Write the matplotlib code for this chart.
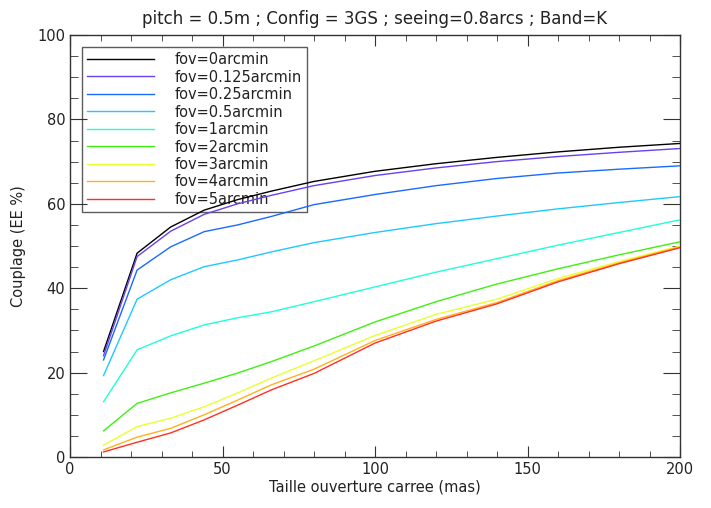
import matplotlib
matplotlib.use("Agg")
import matplotlib.pyplot as plt
from matplotlib.ticker import MultipleLocator

x = [11, 22, 33, 44, 55, 66, 80, 100, 120, 140, 160, 180, 200]

labels = ["fov=0arcmin", "fov=0.125arcmin", "fov=0.25arcmin", "fov=0.5arcmin",
          "fov=1arcmin", "fov=2arcmin", "fov=3arcmin", "fov=4arcmin", "fov=5arcmin"]
colors = ["#000000", "#6a40f0", "#1a6aff", "#20c8ff", "#20ffd8",
          "#40f010", "#e8ff30", "#ffb020", "#ff3020"]

fov0 = [25.0, 48.3, 54.5, 58.5, 61.0, 63.0, 65.3, 67.7, 69.5, 71.0, 72.3, 73.4, 74.3]
fov0125 = [24.0, 47.5, 53.5, 57.5, 60.0, 62.0, 64.3, 66.7, 68.5, 70.0, 71.2, 72.2, 73.1]
fov025 = [23.0, 44.3, 49.8, 53.4, 55.0, 57.0, 59.8, 62.2, 64.3, 66.0, 67.3, 68.2, 69.0]
fov05 = [19.3, 37.4, 42.0, 45.1, 46.7, 48.6, 50.8, 53.2, 55.3, 57.1, 58.8, 60.3, 61.7]
fov1 = [13.1, 25.4, 28.7, 31.3, 33.0, 34.4, 36.8, 40.3, 43.8, 47.0, 50.2, 53.2, 56.2]
fov2 = [6.2, 12.7, 15.2, 17.5, 19.9, 22.6, 26.3, 32.0, 36.8, 41.0, 44.6, 47.9, 51.0]
fov3 = [2.8, 7.2, 9.2, 11.9, 15.2, 18.7, 22.8, 28.8, 33.8, 37.4, 42.3, 46.3, 50.0]
fov4 = [1.7, 4.7, 6.8, 10.0, 13.5, 17.1, 20.8, 27.6, 32.6, 36.6, 41.8, 46.0, 49.8]
fov5 = [1.2, 3.5, 5.7, 8.8, 12.3, 15.9, 19.8, 27.0, 32.2, 36.3, 41.5, 45.8, 49.6]

series = [fov0, fov0125, fov025, fov05, fov1, fov2, fov3, fov4, fov5]

fig = plt.figure(figsize=(7.11, 5.08), dpi=100)
ax = fig.add_axes([70/711, 51/508, 610/711, 422/508])

for y, c, lab in zip(series, colors, labels):
    ax.plot(x, y, color=c, lw=1.0, label=lab, zorder=3)

ax.set_xlim(0, 200)
ax.set_ylim(0, 100)
ax.xaxis.set_major_locator(MultipleLocator(50))
ax.xaxis.set_minor_locator(MultipleLocator(10))
ax.yaxis.set_major_locator(MultipleLocator(20))
ax.yaxis.set_minor_locator(MultipleLocator(5))
ax.tick_params(which="both", direction="in", top=True, right=True, colors="#333333",
               labelcolor="#222222", labelsize=10.5)
ax.tick_params(axis="x", which="major", length=8)
ax.tick_params(axis="x", which="minor", length=4)
ax.tick_params(axis="y", which="major", length=12)
ax.tick_params(axis="y", which="minor", length=6)
for s in ax.spines.values():
    s.set_color("#333333")
    s.set_linewidth(1.0)

ax.set_xlabel("Taille ouverture carree (mas)", fontsize=10.5, color="#222222", labelpad=2)
ax.set_ylabel("Couplage (EE %)", fontsize=10.5, color="#222222", labelpad=8)
ax.set_title("pitch = 0.5m ; Config = 3GS ; seeing=0.8arcs ; Band=K", fontsize=12,
             color="#222222", pad=8)

leg = ax.legend(loc="upper left", bbox_to_anchor=(12/610, 1 - 12/422), fontsize=10.5,
                frameon=True, fancybox=False, handlelength=4.6, handletextpad=1.4,
                labelspacing=0.17, borderpad=0.35, borderaxespad=0)
leg.set_zorder(1)
leg.get_frame().set_edgecolor("#333333")
leg.get_frame().set_linewidth(1.0)
leg.get_frame().set_facecolor("none")
for t in leg.get_texts():
    t.set_color("#222222")

fig.savefig("out.png", dpi=100)
